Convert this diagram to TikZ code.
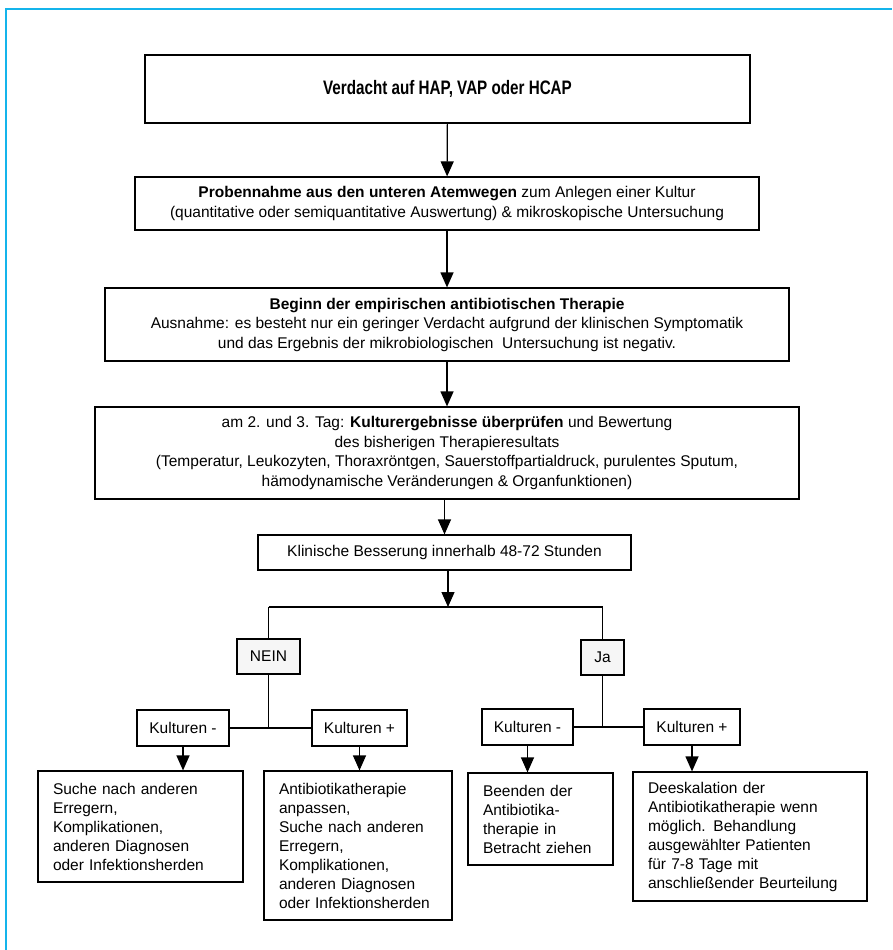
\documentclass[tikz,border=0pt]{standalone}
\usepackage{fontspec}
\setmainfont{Liberation Sans}
\newfontfamily\narrowfont[FakeStretch=0.78]{Liberation Sans}
\usepackage{xcolor}
\usetikzlibrary{positioning}
\usetikzlibrary{arrows.meta}

\definecolor{framecyan}{RGB}{20,180,235}

\tikzset{
	box/.style={draw, line width=1.2pt, inner sep=0pt, align=center, font=\fontsize{15.5}{19.5}\selectfont},
	choice/.style={box, fill=gray!7},
	result/.style={draw, line width=1.2pt, inner xsep=15pt, inner ysep=0pt, align=left, font=\fontsize{15.5}{19}\selectfont},
	flow/.style={line width=1.2pt, -{Triangle[width=13pt,length=15pt]}},
	link/.style={line width=1.2pt}
}

\begin{document}
\begin{tikzpicture}[x=1pt,y=-1pt]
	
	\useasboundingbox (0,0) rectangle (892,950);
	
	% open frame, only top and left edge are visible
	\draw[framecyan, line width=2pt] (6,950) -- (6,9) -- (892,9);
	
	% main column, all positions in pixels of the page (y grows downwards)
	\node[box, minimum width=605pt, minimum height=68pt, font=\narrowfont\fontsize{19.5}{23}\selectfont\bfseries] (Verdacht) at (447.5,89) {Verdacht auf HAP, VAP oder HCAP};
	
	\node[box, minimum width=624pt, minimum height=53pt] (Probe) at (447,203.5) {\textbf{Probennahme aus den unteren Atemwegen} zum Anlegen einer Kultur\\(quantitative oder semiquantitative Auswertung) \& mikroskopische Untersuchung};
	
	\node[box, minimum width=684pt, minimum height=73pt] (Beginn) at (447,324.5) {\textbf{Beginn der empirischen antibiotischen Therapie}\\Ausnahme: es besteht nur ein geringer Verdacht aufgrund der klinischen Symptomatik\\und das Ergebnis der mikrobiologischen\ \ Untersuchung ist negativ.};
	
	\node[box, minimum width=704pt, minimum height=92pt] (Pruefung) at (447,453) {am 2. und 3. Tag: \textbf{Kulturergebnisse überprüfen} und Bewertung\\des bisherigen Therapieresultats\\(Temperatur, Leukozyten, Thoraxröntgen, Sauerstoffpartialdruck, purulentes Sputum,\\hämodynamische Veränderungen \& Organfunktionen)};
	
	\node[box, minimum width=373pt, minimum height=35pt] (Besserung) at (444.5,552.5) {Klinische Besserung innerhalb 48-72 Stunden};
	
	% branching points
	\coordinate (S)  at (448,607);
	\coordinate (SN) at (268.5,607);
	\coordinate (SJ) at (602.5,607);
	\coordinate (JN) at (268.5,728);
	\coordinate (JJ) at (602.5,727);
	
	\node[choice, minimum width=63pt, minimum height=35pt] (Nein) at (268.5,656.5) {NEIN};
	\node[choice, minimum width=43pt, minimum height=35pt] (Ja) at (602.5,657.5) {Ja};
	
	% culture results
	\node[box, minimum width=92pt, minimum height=36pt] (NegN) at (183,728) {Kulturen -};
	\node[box, minimum width=95pt, minimum height=36pt] (PosN) at (359.5,728) {Kulturen +};
	\node[box, minimum width=91pt, minimum height=36pt] (NegJ) at (527.5,727) {Kulturen -};
	\node[box, minimum width=96pt, minimum height=36pt] (PosJ) at (692,727) {Kulturen +};
	
	% consequences
	\node[result, text width=175pt, minimum height=111pt] (Suche) at (140.5,826.5) {Suche nach anderen\\Erregern,\\Komplikationen,\\anderen Diagnosen\\oder Infektionsherden};
	\node[result, text width=158pt, minimum height=149pt] (Anpassen) at (358,845.5) {Antibiotikatherapie\\anpassen,\\Suche nach anderen\\Erregern,\\Komplikationen,\\anderen Diagnosen\\oder Infektionsherden};
	\node[result, text width=115pt, minimum height=92pt] (Beenden) at (540.5,819) {Beenden der\\Antibiotika-\\therapie in\\Betracht ziehen};
	\node[result, text width=204pt, minimum height=129pt] (Deeskalation) at (750,836.5) {Deeskalation der\\Antibiotikatherapie wenn\\möglich. Behandlung\\ausgewählter Patienten\\für 7-8 Tage mit\\anschließender Beurteilung};
	
	% connectors
	\draw[flow] (Verdacht) -- (Probe);
	\draw[flow] (Probe) -- (Beginn);
	\draw[flow] (Beginn) -- (Pruefung);
	\draw[flow] (Pruefung.south -| Besserung) -- (Besserung);
	\draw[flow] (Besserung.south -| S) -- (S);
	
	\draw[link] (SN) -- (SJ);
	\draw[link] (SN) -- (Nein);
	\draw[link] (SJ) -- (Ja);
	\draw[link] (Nein) -- (JN);
	\draw[link] (Ja) -- (JJ);
	\draw[link] (NegN) -- (PosN);
	\draw[link] (NegJ) -- (PosJ);
	
	\draw[flow] (NegN) -- (NegN |- Suche.north);
	\draw[flow] (PosN) -- (PosN |- Anpassen.north);
	\draw[flow] (NegJ) -- (NegJ |- Beenden.north);
	\draw[flow] (PosJ) -- (PosJ |- Deeskalation.north);
	
\end{tikzpicture}
\end{document}
